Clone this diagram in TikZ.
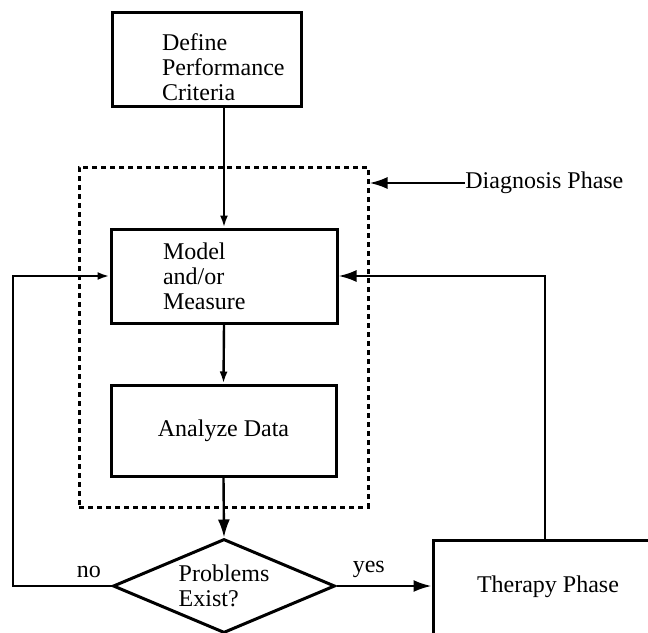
\documentclass[tikz,border=0pt]{standalone}
\usepackage{fontspec}
\setmainfont{Liberation Serif}
\usetikzlibrary{shapes.geometric,arrows.meta}
\begin{document}
\begin{tikzpicture}[x=0.5pt,y=-0.5pt,
	font=\fontsize{12}{12.5}\selectfont,
	box/.style={draw, line width=1.5pt, inner sep=0pt},
	link/.style={line width=1.2pt},
	tip/.style={-{Latex[length=9pt,width=6pt]}},
	smalltip/.style={-{Latex[length=6pt,width=4pt]}}]
		
		\useasboundingbox (0,0) rectangle (648,632);
		
		\coordinate (L) at (13,0);
		\coordinate (R) at (545,0);
		
		% Boxes
		\node[box, minimum width=94.5pt, minimum height=47pt, text width=44.5pt, align=left] (define) at (206.5,59) {\rule{0pt}{17pt}Define\\Performance\\Criteria};
		\node[box, minimum width=113pt, minimum height=47pt, text width=61pt, align=left] (model) at (224,276) {Model\\and/or\\Measure};
		\node[box, minimum width=112.5pt, minimum height=45.5pt] (analyze) at (223.5,430.5) {Analyze Data};
		\node[box, diamond, aspect=2.36, minimum width=111pt, minimum height=47pt, align=left] (problem) at (224,586) {Problems\\Exist?};
		\node[box, minimum width=115pt, minimum height=47pt] (therapy) at (548,587) {Therapy Phase};
		
		% Diagnosis frame
		\node[draw, line width=1.5pt, dash pattern=on 2.5pt off 2pt, minimum width=144.5pt, minimum height=170pt] (diag) at (223.5,337) {};
		\node[anchor=west, inner sep=0pt] (dlabel) at (465,183) {Diagnosis Phase};
		\draw[link, tip] (dlabel.west) -- (dlabel.west -| diag.east);
		
		% Main flow
		\draw[link, smalltip] (model.north |- define.south) -- (model.north);
		\draw[link, smalltip] (model.south) -- (analyze.north);
		\draw[link, tip] (analyze.south) -- (problem.north);
		\draw[link, tip] (problem.east) -- node[above, pos=0.34] {yes} (problem.east -| therapy.west);
		
		% Feedback loops
		\draw[link, smalltip] (problem.west) -- node[above, pos=0.23] {no} (problem.west -| L) |- (model.west);
		\draw[link, tip] (therapy.north -| R) |- (model.east);
		
	\end{tikzpicture}
\end{document}
